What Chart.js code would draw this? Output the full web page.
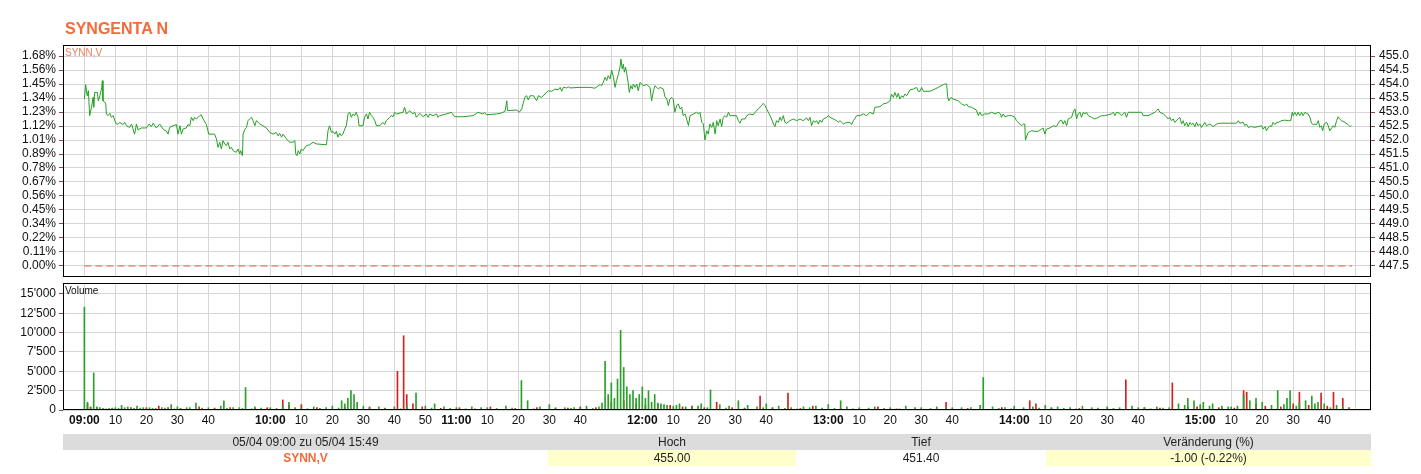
<!DOCTYPE html>
<html><head><meta charset="utf-8">
<script src="https://cdn.jsdelivr.net/npm/chart.js@4.4.0/dist/chart.umd.min.js"></script>
<style>
html,body{margin:0;padding:0;background:#fff;}
body{width:1421px;height:474px;position:relative;overflow:hidden;font-family:"Liberation Sans",Arial,sans-serif;}
canvas{position:absolute;left:0;top:0;}
#title{position:absolute;left:65px;top:19px;line-height:20px;font-size:16px;font-weight:bold;color:#f26b3a;}
#lbl1{position:absolute;left:65px;top:47px;font-size:10px;line-height:12px;color:#f08060;}
#lbl2{position:absolute;left:65px;top:285px;font-size:10px;line-height:12px;color:#111;}
#tbl{position:absolute;left:63px;top:434px;width:1308px;border-collapse:collapse;table-layout:fixed;font-size:12px;color:#222;}
#tbl td{padding:0;height:16px;line-height:16px;text-align:center;white-space:nowrap;}
#tbl tr.h td{background:#dcdcdc;}
#tbl td.y{background:#ffffcc;}
#tbl td.o{color:#f26b3a;font-weight:bold;}
</style></head>
<body>
<canvas id="c1" width="1421" height="474"></canvas>
<canvas id="c2" width="1421" height="474"></canvas>
<div id="title">SYNGENTA N</div>
<div id="lbl1">SYNN,V</div>
<div id="lbl2">Volume</div>
<table id="tbl">
<colgroup><col style="width:485px"><col style="width:248px"><col style="width:250px"><col style="width:325px"></colgroup>
<tr class="h"><td>05/04 09:00 zu 05/04 15:49</td><td>Hoch</td><td>Tief</td><td>Veränderung (%)</td></tr>
<tr><td class="o">SYNN,V</td><td class="y">455.00</td><td>451.40</td><td class="y">-1.00 (-0.22%)</td></tr>
</table>
<script>
// minutes since 09:00
const priceTimes = [0.0,0.4,0.9,1.3,1.7,2.3,2.8,3.0,3.3,4.2,4.5,5.0,5.6,5.8,6.0,6.6,6.9,7.1,7.6,8.2,8.7,9.3,9.8,10.3,10.9,11.4,12.5,13.0,13.6,14.6,15.2,15.7,16.2,16.8,17.3,18.4,20.0,20.9,21.6,22.2,23.2,24.3,25.4,26.5,27.0,27.5,28.6,29.7,30.2,30.8,31.3,31.8,32.9,33.4,34.0,34.5,35.1,35.6,36.1,36.7,37.2,37.7,38.3,39.4,40.1,42.0,42.6,43.1,43.7,44.2,44.7,45.3,45.8,46.3,46.9,47.4,48.0,49.0,49.6,50.1,50.4,51.0,51.2,51.7,52.3,52.8,53.3,53.9,54.4,55.0,55.5,56.6,57.6,58.7,59.8,60.9,61.9,62.5,63.0,63.6,64.1,65.2,66.2,67.3,67.9,68.2,68.6,69.0,69.5,70.0,70.5,71.6,72.7,73.8,74.8,78.1,78.6,79.1,79.7,80.2,80.8,81.3,81.8,82.4,82.9,83.4,84.0,84.5,85.1,85.6,86.1,86.7,87.2,87.7,88.3,88.6,89.9,90.4,91.0,91.5,92.0,92.6,93.1,93.7,94.2,95.3,96.3,96.9,97.4,98.5,99.0,99.6,100.1,100.7,102.8,103.3,103.9,105.0,106.0,106.6,107.1,108.2,109.3,110.3,110.9,111.4,112.5,113.6,114.1,114.6,116.8,118.4,119.5,122.2,125.4,127.0,128.6,129.1,129.7,132.9,
134.1,135.7,136.3,136.5,139.5,140.3,141.1,141.8,142.2,142.7,143.2,143.8,144.9,145.9,146.5,147.5,148.6,149.7,150.8,151.8,152.9,153.5,154.0,154.5,155.6,156.1,156.7,159.9,163.1,164.7,166.4,166.9,167.4,168.0,168.5,169.0,169.6,170.1,170.7,171.2,171.7,172.3,172.8,173.1,173.5,173.9,174.2,174.6,175.0,175.5,175.8,176.3,176.8,177.1,177.7,178.2,178.7,179.3,180.3,181.4,182.5,183.0,183.6,184.1,185.2,185.7,186.8,187.3,187.9,188.4,188.9,189.5,190.0,190.5,191.1,191.6,192.2,192.7,193.2,193.8,194.3,194.9,195.4,196.5,197.5,198.1,198.6,199.2,199.7,200.2,200.8,201.3,201.8,202.4,202.9,203.5,204.0,204.5,205.1,205.6,206.1,206.7,207.2,207.8,208.3,210.4,211.0,211.5,212.1,213.1,213.7,214.7,215.8,216.4,217.4,218.5,219.0,219.6,220.1,221.2,221.7,222.3,222.8,223.3,223.9,224.4,224.9,225.5,226.0,226.6,227.6,228.7,229.8,230.9,231.9,233.0,233.6,234.1,234.6,235.2,235.7,236.2,236.8,237.3,237.9,238.4,239.5,240.0,240.6,241.6,242.7,243.2,243.8,244.9,245.9,247.0,247.5,248.1,249.2,250.2,251.3,252.4,253.4,254.5,255.1,256.7,257.8,258.8,259.9,260.4,261.0,261.5,262.1,262.6,263.1,263.7,264.2,264.7,265.3,266.4,267.4,268.5,269.0,269.6,270.1,270.7,272.8,
274.4,275.5,277.1,277.6,278.2,278.5,278.9,279.6,280.3,281.9,283.0,284.1,284.6,285.2,286.2,287.8,288.4,288.9,289.5,290.5,291.6,292.7,293.8,294.8,295.4,295.9,296.4,297.0,298.1,299.1,300.2,300.7,301.8,302.4,302.9,303.4,303.6,304.5,305.6,306.7,307.7,308.8,309.3,309.9,310.4,311.5,312.6,313.6,314.7,315.3,315.8,316.3,316.9,317.4,318.5,319.0,319.6,320.1,320.6,321.2,321.7,322.3,322.8,323.3,323.9,324.9,326.0,327.1,328.2,329.2,330.3,331.4,331.9,332.5,333.0,334.1,334.6,335.7,336.2,336.8,338.9,341.1,341.6,343.2,344.3,345.4,345.9,346.4,347.0,348.1,349.1,349.7,350.2,350.7,351.3,351.8,352.9,353.4,354.0,354.5,355.0,355.6,356.1,356.7,357.2,357.7,358.3,358.8,359.3,359.9,360.4,361.5,362.0,363.1,364.2,365.3,366.3,368.0,369.6,370.6,371.7,372.3,372.8,373.9,374.4,374.9,375.5,376.5,377.6,378.7,379.8,380.3,380.9,381.4,381.9,382.5,383.0,383.5,384.1,384.6,385.2,386.2,387.3,388.4,389.2,389.7,390.0,390.5,391.1,391.6,392.1,392.7,393.2,393.8,394.3,394.8,395.4,395.9,396.5,397.0,397.5,398.1,398.6,399.1,399.5,400.0,400.8,401.3,401.8,402.4,402.9,403.4,404.0,404.5,405.0,405.6,406.7,407.7,408.3,408.8];
const priceValues = [453.46,453.98,453.58,453.76,452.87,453.17,453.52,453.17,453.70,453.70,453.40,453.58,453.88,454.12,453.40,453.35,453.29,452.93,452.87,452.95,452.81,452.87,452.69,452.57,452.57,452.63,452.55,452.63,452.51,452.45,452.57,452.39,452.21,452.57,452.36,452.43,452.43,452.57,452.48,452.60,452.43,452.57,452.39,452.31,452.21,452.45,452.51,452.55,452.21,452.51,452.21,452.39,452.43,452.55,452.51,452.81,452.69,452.81,452.75,452.81,452.87,452.90,452.75,452.55,452.21,452.21,452.04,451.74,451.92,451.68,451.98,451.86,451.80,451.92,451.68,451.74,451.62,451.56,451.68,451.50,451.62,451.44,452.21,452.36,452.45,452.69,452.75,452.81,452.69,452.51,452.69,452.57,452.51,452.43,452.27,452.21,452.27,452.15,452.24,452.10,452.21,452.04,451.92,451.92,451.98,451.50,451.44,451.62,451.50,451.68,451.62,451.80,451.83,451.92,451.86,451.83,452.33,452.51,452.27,452.31,452.21,452.31,452.10,452.24,452.15,452.21,452.39,452.51,452.95,452.99,452.81,452.93,452.87,452.99,452.81,452.51,452.51,452.81,452.93,452.75,452.99,452.87,452.81,452.69,452.51,452.51,452.63,452.55,452.69,452.81,452.87,452.83,452.99,452.93,452.99,453.17,452.93,453.05,452.93,452.99,452.81,452.95,452.83,452.93,452.81,452.93,452.87,452.93,452.81,452.87,452.93,452.99,452.83,452.83,452.87,452.99,452.93,452.99,452.90,452.93,
452.95,453.02,453.40,453.05,453.07,452.99,453.11,453.40,453.55,453.58,453.43,453.58,453.58,453.40,453.58,453.52,453.64,453.76,453.74,453.82,453.79,453.88,453.74,453.88,453.86,453.90,453.86,453.88,453.88,453.85,453.98,453.94,454.06,454.24,454.12,454.30,454.18,454.50,454.24,453.88,454.12,454.36,454.60,454.89,454.54,454.71,454.42,454.60,454.36,454.00,453.70,453.94,453.82,454.00,453.88,454.00,453.76,454.06,453.94,453.98,453.88,453.40,453.76,453.94,453.82,453.88,453.82,453.55,453.46,453.23,453.46,453.52,453.46,452.99,453.23,453.29,453.11,453.17,452.87,452.93,452.75,452.51,452.87,452.93,452.99,452.93,452.99,452.63,452.57,452.00,452.33,452.21,452.57,452.45,452.63,452.21,452.69,452.51,452.75,452.48,452.81,452.87,452.81,452.99,452.87,452.87,452.69,452.60,452.75,452.75,452.87,452.93,452.90,452.99,453.11,453.23,453.31,453.23,453.11,452.87,452.75,452.57,452.48,452.69,452.63,452.81,452.69,452.87,452.63,452.60,452.69,452.75,452.69,452.75,452.69,452.79,452.69,452.81,452.51,452.69,452.63,452.69,452.57,452.71,452.63,452.75,452.81,452.87,452.81,452.75,452.69,452.63,452.69,452.57,452.63,452.63,452.55,452.69,452.87,452.87,452.93,452.87,452.99,452.93,453.17,453.19,453.29,453.31,453.40,453.64,453.52,453.70,453.52,453.67,453.46,453.58,453.52,453.64,453.58,453.79,453.82,453.88,453.74,453.74,453.88,453.74,453.74,
453.82,453.88,453.98,454.00,454.00,453.55,453.40,453.52,453.46,453.40,453.29,453.23,453.29,453.19,453.17,453.07,452.87,452.99,452.87,452.93,452.93,452.99,452.93,452.99,452.95,452.81,452.93,452.83,452.87,452.87,452.81,452.69,452.57,452.51,452.57,452.57,452.00,452.27,452.33,452.31,452.31,452.39,452.43,452.21,452.39,452.43,452.51,452.48,452.69,452.71,452.57,452.69,452.51,452.75,452.81,452.99,453.11,452.75,452.93,452.99,452.81,452.99,452.93,452.99,452.87,452.81,452.75,452.81,452.87,452.87,452.90,452.93,452.99,452.87,452.99,452.95,452.87,452.99,452.81,452.99,452.99,452.99,452.87,452.87,452.93,452.99,453.05,453.11,452.99,452.93,452.83,452.75,452.81,452.69,452.75,452.63,452.75,452.81,452.57,452.69,452.51,452.63,452.48,452.63,452.55,452.60,452.48,452.63,452.51,452.57,452.45,452.63,452.51,452.57,452.48,452.57,452.60,452.60,452.60,452.60,452.60,452.69,452.60,452.63,452.51,452.57,452.45,452.48,452.45,452.48,452.51,452.39,452.48,452.33,452.43,452.51,452.48,452.63,452.55,452.63,452.63,452.69,452.71,452.69,452.69,452.99,452.87,452.99,452.87,452.99,452.87,452.99,452.87,452.99,452.95,452.93,452.81,452.60,452.55,452.57,452.55,452.69,452.45,452.51,452.33,452.57,452.63,452.51,452.33,452.43,452.51,452.45,452.69,452.83,452.75,452.69,452.63,452.55,452.48,452.51];

const basePrice = 447.5;
const baseTimes = [0, 409];

const greenTimes = [0,1,3,4,5,8,10,12,14,17,19,22,25,28,30,33,36,40,44,45,48,51,52,55,60,64,66,70,74,78,80,83,84,85,86,87,88,90,95,100,104,107,110,113,116,120,125,130,136,141,143,147,150,155,158,162,166,167,168,169,170,171,172,173,174,175,176,177,178,179,180,181,182,183,184,186,188,190,192,194,199,202,205,208,211,214,217,220,224,228,232,236,240,244,246,250,255,260,265,270,275,280,283,289,290,293,297,300,303,306,310,314,318,322,325,330,334,338,342,346,350,353,356,358,361,364,367,370,374,376,378,380,385,388,389,392,394,396,398,400,404,406];
const greenVolumes = [13300,1000,4800,400,300,200,300,600,400,500,300,200,300,700,400,300,900,300,500,1200,300,200,2900,400,300,600,1000,300,400,300,500,1200,800,1500,2500,2000,1000,500,400,400,600,2200,500,800,400,300,400,300,500,3800,1200,400,700,300,300,500,400,900,6300,2000,3500,1500,4000,10300,5500,3000,2000,2500,1500,2000,3000,1500,2500,1000,2000,800,600,500,800,400,800,2600,700,500,1200,600,400,800,500,300,400,500,700,1200,400,300,400,300,500,300,400,300,300,600,4200,400,300,500,300,400,600,400,300,500,300,400,300,500,300,400,300,800,1500,1200,1000,800,500,400,2000,1200,1500,1000,2500,1500,2500,1000,1200,1800,1000,800,600,400];
const greenSmallTimes = [2,6,7,9,11,13,15,16,18,20,21,23,26,29,31,34,38,42,46,50,54,57,62,68,72,76,82,92,97,102,112,118,123,128,133,138,145,152,157,160,164,185,187,191,196,198,201,207,213,219,222,226,230,234,238,242,248,253,258,263,268,273,278,286,295,299,308,312,316,320,327,332,340,344,348,355,360,363,369,372,383,387,391,397,402,408];
const greenSmallVolumes = [300,200,150,250,200,300,150,200,250,150,300,200,250,150,200,300,250,150,200,300,150,250,200,300,150,200,250,300,200,150,250,200,150,300,200,250,150,300,200,250,200,900,700,600,400,500,300,250,200,300,250,200,150,300,250,200,150,250,200,150,300,200,250,300,200,150,250,300,200,150,250,200,300,150,250,600,700,500,400,500,600,700,500,800,300,200];
const redTimes = [1,2,4,9,15,24,27,37,47,59,64,66,70,84,101,103,104,106,109,121,131,146,152,160,170,174,178,185,189,196,204,209,218,227,235,256,278,305,307,336,351,359,374,375,378,390,392,399,403,406];
const redVolumes = [800,400,300,200,300,500,300,400,300,300,1300,600,700,400,5000,9600,2000,800,400,300,400,300,200,400,1000,1200,800,700,600,500,1000,300,1800,2200,500,400,1000,1200,800,3900,3500,400,2500,2300,800,800,2300,2200,2300,1500];
const redSmallTimes = [12,20,31,42,55,75,92,97,115,126,139,156,165,181,193,200,213,222,231,244,262,285,296,312,321,330,342,347,356,366,371,381,386,395,401,408];
const redSmallVolumes = [200,300,150,250,200,300,400,250,200,150,200,250,300,600,400,300,250,300,200,250,150,200,300,250,200,150,300,250,400,300,250,500,400,600,500,300];

const priceTicks = [447.5,448.0,448.5,449.0,449.5,450.0,450.5,451.0,451.5,452.0,452.5,453.0,453.5,454.0,454.5,455.0];
const priceTickLabels = ['447.5','448.0','448.5','449.0','449.5','450.0','450.5','451.0','451.5','452.0','452.5','453.0','453.5','454.0','454.5','455.0'];
const pctTickLabels = ['0.00%','0.11%','0.22%','0.34%','0.45%','0.56%','0.67%','0.78%','0.89%','1.01%','1.12%','1.23%','1.34%','1.45%','1.56%','1.68%'];
const volTicks = [0,2500,5000,7500,10000,12500,15000];
const volTickLabels = ["0","2'500","5'000","7'500","10'000","12'500","15'000"];
const timeTicks = [0,10,20,30,40,50,60,70,80,90,100,110,120,130,140,150,160,170,180,190,200,210,220,230,240,250,260,270,280,290,300,310,320,330,340,350,360,370,380,390,400,410];
const timeTickLabels = ['09:00','10','20','30','40','','10:00','10','20','30','40','50','11:00','10','20','30','40','','12:00','10','20','30','40','','13:00','10','20','30','40','','14:00','10','20','30','40','','15:00','10','20','30','40',''];

const FONT = '"Liberation Sans", Arial, sans-serif';
const GRID = '#d6d6d6';
const TICKC = '#a04040';
const GREEN = '#2aa02a', RED = '#d42020';
const xMin = -6.9, xMax = 415.1;
const yMin = 447.107, yMax = 455.393;

const framePlugin = {
  id: 'frame',
  afterDraw(chart) {
    const a = chart.chartArea, c = chart.ctx;
    c.save(); c.strokeStyle = '#000'; c.lineWidth = 1;
    c.strokeRect(a.left + 0.5, a.top + 0.5, a.right - a.left - 1, a.bottom - a.top - 1);
    c.restore();
  }
};

Chart.defaults.font.family = FONT;
const pts = (ts, vs) => ts.map((t, i) => ({x: t, y: vs[i]}));

new Chart(document.getElementById('c1'), {
  type: 'line',
  data: { datasets: [
    { data: pts(priceTimes, priceValues), yAxisID: 'yR', borderColor: '#25a025', borderWidth: 1, pointRadius: 0, tension: 0 },
    { data: baseTimes.map(t => ({x: t, y: basePrice})), yAxisID: 'yR', borderColor: '#e0604a', borderWidth: 1, borderDash: [7, 4], pointRadius: 0 }
  ]},
  options: {
    responsive: false, animation: false,
    layout: { padding: { top: 45, bottom: 474 - 277, left: 0, right: 0 } },
    plugins: { legend: { display: false }, tooltip: { enabled: false } },
    scales: {
      x: { type: 'linear', min: xMin, max: xMax,
        afterBuildTicks: s => { s.ticks = timeTicks.map(v => ({value: v})); },
        ticks: { display: false }, grid: { color: GRID, drawTicks: false }, border: { display: false },
        afterFit: s => { s.height = 0; } },
      yL: { position: 'left', min: yMin, max: yMax,
        afterBuildTicks: s => { s.ticks = priceTicks.map(v => ({value: v})); },
        ticks: { autoSkip: false, callback: (v, i) => pctTickLabels[i], color: '#111', font: { size: 12 }, padding: 3 },
        grid: { color: GRID, tickLength: 4, tickColor: TICKC }, border: { display: false },
        afterFit: s => { s.width = 63; } },
      yR: { position: 'right', min: yMin, max: yMax,
        afterBuildTicks: s => { s.ticks = priceTicks.map(v => ({value: v})); },
        ticks: { autoSkip: false, callback: (v, i) => priceTickLabels[i], color: '#111', font: { size: 12 }, padding: 4 },
        grid: { drawOnChartArea: false, tickLength: 4, tickColor: TICKC }, border: { display: false },
        afterFit: s => { s.width = 50; } }
    }
  },
  plugins: [framePlugin]
});

new Chart(document.getElementById('c2'), {
  type: 'bar',
  data: { datasets: [
    { data: pts(greenSmallTimes, greenSmallVolumes), backgroundColor: GREEN, barThickness: 1, grouped: false },
    { data: pts(greenTimes, greenVolumes), backgroundColor: GREEN, barThickness: 1, grouped: false },
    { data: pts(redSmallTimes, redSmallVolumes), backgroundColor: RED, barThickness: 1, grouped: false },
    { data: pts(redTimes, redVolumes), backgroundColor: RED, barThickness: 1, grouped: false }
  ]},
  options: {
    responsive: false, animation: false,
    layout: { padding: { top: 283, bottom: 0, left: 0, right: 50 } },
    plugins: { legend: { display: false }, tooltip: { enabled: false } },
    scales: {
      x: { type: 'linear', min: xMin, max: xMax, offset: false,
        afterBuildTicks: s => { s.ticks = timeTicks.map(v => ({value: v})); },
        ticks: { autoSkip: false, maxRotation: 0, padding: 3, color: '#111',
          callback: (v, i) => timeTickLabels[i],
          font: ctx => ({ size: 12, weight: (ctx.index !== undefined && timeTickLabels[ctx.index] && timeTickLabels[ctx.index].indexOf(':') > 0) ? 'bold' : 'normal' }) },
        grid: { color: GRID, drawTicks: false, offset: false }, border: { display: false },
        afterFit: s => { s.height = 474 - 410; } },
      y: { position: 'left', min: 0, max: 16420,
        afterBuildTicks: s => { s.ticks = volTicks.map(v => ({value: v})); },
        ticks: { autoSkip: false, callback: (v, i) => volTickLabels[i], color: '#111', font: { size: 12 }, padding: 3 },
        grid: { color: GRID, tickLength: 4, tickColor: TICKC }, border: { display: false },
        afterFit: s => { s.width = 63; } }
    }
  },
  plugins: [framePlugin]
});
</script>
</body></html>
